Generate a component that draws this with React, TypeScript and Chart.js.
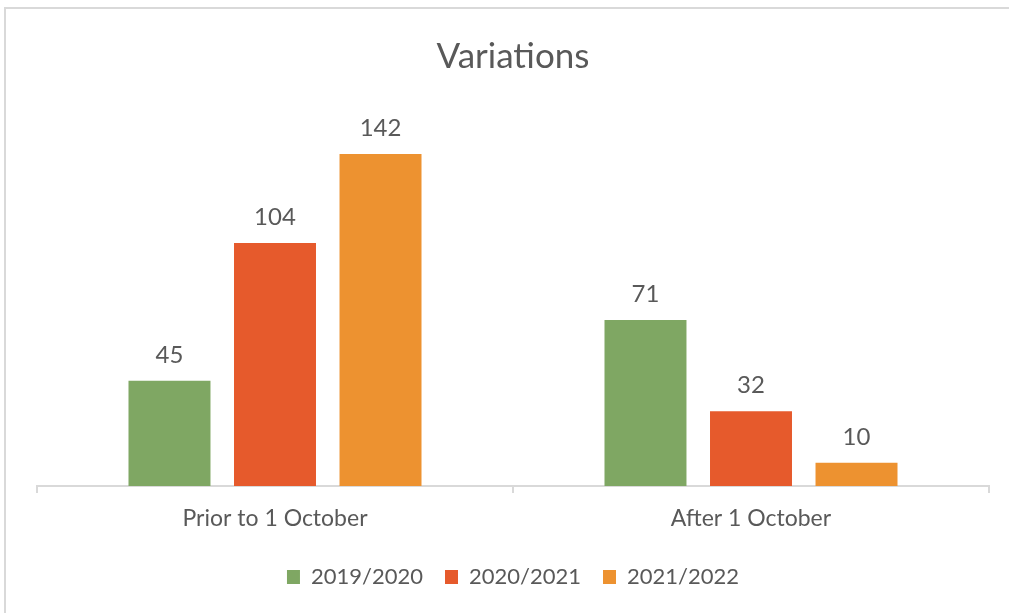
import React, { useEffect, useRef } from "react";
import { Chart, registerables } from "chart.js";

Chart.register(...registerables);

const categories = ["Prior to 1 October", "After 1 October"];
const seriesNames = ["2019/2020", "2020/2021", "2021/2022"];
const values2019 = [45, 71];
const values2020 = [104, 32];
const values2021 = [142, 10];
const seriesColors = ["#7FA763", "#E65A2C", "#ED9230"];

const TEXT = "#595959";
const FONT = "Lato, 'Open Sans', sans-serif";

const dataLabels = {
  id: "dataLabels",
  afterDatasetsDraw(chart: any) {
    const ctx = chart.ctx;
    ctx.save();
    ctx.fillStyle = TEXT;
    ctx.font = `24px ${FONT}`;
    ctx.textAlign = "center";
    ctx.textBaseline = "alphabetic";
    chart.data.datasets.forEach((ds: any, i: number) => {
      const meta = chart.getDatasetMeta(i);
      meta.data.forEach((bar: any, j: number) => {
        ctx.fillText(String(ds.data[j]), bar.x, bar.y - 18);
      });
    });
    ctx.restore();
  },
};

export default function App() {
  const ref = useRef<HTMLCanvasElement>(null);
  useEffect(() => {
    if (!ref.current) return;
    const all = [values2019, values2020, values2021];
    const legendPad = 22;
    const chart = new Chart(ref.current, {
      type: "bar",
      data: {
        labels: categories,
        datasets: all.map((v, i) => ({
          label: seriesNames[i],
          data: v,
          backgroundColor: seriesColors[i],
          borderWidth: 0,
          categoryPercentage: 0.665,
          barPercentage: 0.777,
        })),
      },
      options: {
        responsive: false,
        animation: false,
        layout: { padding: { left: 37, right: 20, top: 0, bottom: 15 } },
        scales: {
          y: { display: false, min: 0, max: 160 },
          x: {
            afterFit: (scale: any) => {
              scale.height = 80 - legendPad;
            },
            grid: {
              drawOnChartArea: false,
              drawTicks: true,
              tickLength: 7,
              color: "#D9D9D9",
              lineWidth: 2,
              offset: true,
            },
            border: { display: true, color: "#D9D9D9", width: 2 },
            ticks: {
              color: TEXT,
              font: { family: FONT, size: 23 },
              padding: 12,
            },
          },
        },
        plugins: {
          title: {
            display: true,
            text: "Variations",
            color: TEXT,
            font: { family: FONT, size: 35, weight: "normal" },
            padding: { top: 36, bottom: 34 },
          },
          legend: {
            position: "bottom",
            labels: {
              color: TEXT,
              font: { family: FONT, size: 22 },
              boxWidth: 13,
              boxHeight: 14,
              padding: legendPad,
            },
          },
          tooltip: { enabled: false },
        },
      },
      plugins: [dataLabels],
    });
    return () => chart.destroy();
  }, []);
  return (
    <div style={{ position: "fixed", left: 0, top: 0, width: 1009, height: 613, background: "#fff" }}>
      <canvas ref={ref} width={1009} height={613} style={{ display: "block" }} />
      <div
        style={{
          position: "absolute",
          left: 4,
          top: 7,
          right: -10,
          bottom: -10,
          borderTop: "2px solid #D9D9D9",
          borderLeft: "2px solid #D9D9D9",
          pointerEvents: "none",
        }}
      />
    </div>
  );
}
